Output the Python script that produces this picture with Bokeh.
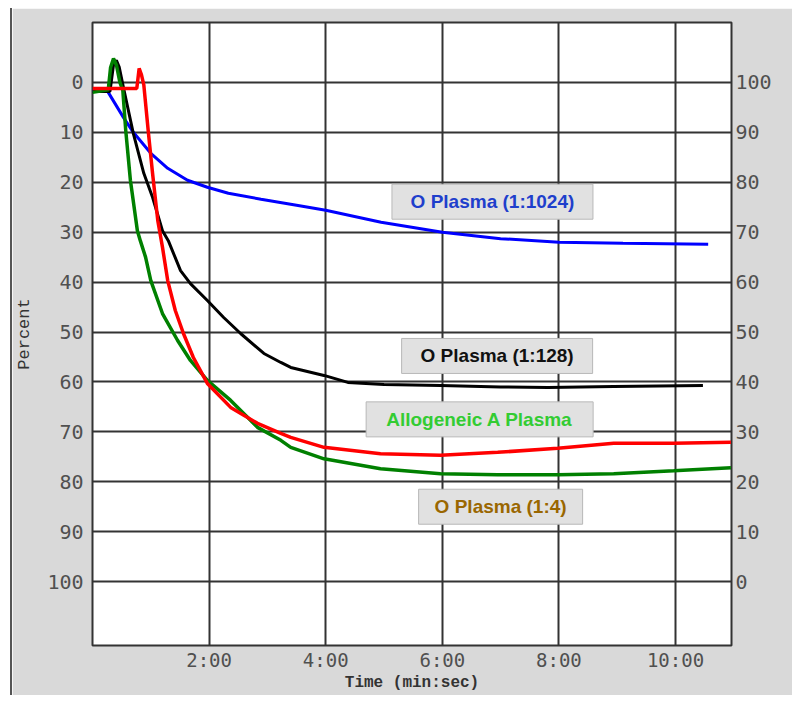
from bokeh.plotting import figure
from bokeh.models import Range1d, LinearAxis, FixedTicker, ColumnDataSource
from bokeh.core.properties import value
from bokeh.embed import file_html
from bokeh.resources import INLINE

# ---- data (time in minutes, percent on left axis, 0 at top) ----
blue_t = [0, 0.26, 0.53, 0.70, 1.00, 1.29, 1.63, 1.97, 2.33, 2.89, 3.5, 4.0, 4.95, 6.0, 7.0, 8.0, 9.1, 10.56]
blue_v = [1.6, 1.8, 7.0, 10.0, 14.2, 17.2, 19.6, 21.0, 22.2, 23.4, 24.6, 25.6, 28.0, 30.0, 31.3, 32.0, 32.2, 32.4]

black_t = [0, 0.30, 0.36, 0.41, 0.46, 0.53, 0.70, 0.88, 1.03, 1.20, 1.30, 1.51, 1.68, 1.97, 2.25, 2.54,
           2.94, 3.23, 3.40, 3.97, 4.38, 5.0, 5.97, 7.0, 7.81, 8.94, 10.47]
black_v = [1.8, 1.8, -3.5, -4.4, -3.0, 1.0, 10.2, 18.2, 23.0, 29.7, 31.7, 37.7, 40.3, 43.7, 47.1, 50.3,
           54.3, 56.1, 57.1, 58.7, 60.1, 60.5, 60.7, 61.0, 61.1, 60.9, 60.7]

green_t = [0, 0.27, 0.31, 0.36, 0.41, 0.47, 0.52, 0.57, 0.65, 0.77, 0.82, 0.91, 1.00, 1.20, 1.46, 1.68,
           1.97, 2.37, 2.83, 3.23, 3.40, 3.97, 4.94, 5.97, 6.95, 7.98, 8.94, 9.97, 10.95]
green_v = [2.0, 1.5, -3.0, -4.8, -3.5, 0.0, 1.6, 9.6, 19.6, 29.7, 31.7, 35.0, 39.7, 46.3, 51.7, 55.7,
           59.7, 63.7, 69.1, 71.7, 73.1, 75.4, 77.4, 78.4, 78.6, 78.6, 78.4, 77.8, 77.2]

red_t = [0, 0.76, 0.80, 0.84, 0.88, 0.96, 1.03, 1.12, 1.20, 1.29, 1.42, 1.56, 1.73, 1.97, 2.37, 2.83,
         3.23, 3.40, 3.97, 4.94, 5.97, 6.95, 7.98, 8.94, 9.97, 10.95]
red_v = [1.2, 1.2, -2.8, -1.5, 0.5, 10.2, 18.2, 27.7, 33.0, 39.7, 45.7, 50.3, 55.1, 60.3, 65.1, 68.3,
         70.3, 71.1, 73.1, 74.4, 74.7, 74.1, 73.3, 72.3, 72.3, 72.1]

x_ticks = [2, 4, 6, 8, 10]
x_tick_labels = ["2:00", "4:00", "6:00", "8:00", "10:00"]
left_ticks = [0, 10, 20, 30, 40, 50, 60, 70, 80, 90, 100]
right_ticks = [0, 10, 20, 30, 40, 50, 60, 70, 80, 90, 100]

label_texts = ["O Plasma (1:1024)", "O Plasma (1:128)", "Allogeneic A Plasma", "O Plasma (1:4)"]
label_t = [6.86, 6.94, 6.64, 7.00]
label_v = [23.9, 54.8, 67.5, 85.0]
label_w = [201, 191, 227, 164]
label_colors = ["#1f3fcc", "#111111", "#33cc33", "#9a6700"]

# ---- figure ----
p = figure(width=782, height=687,
           x_range=Range1d(0, 10.96), y_range=Range1d(112.8, -12),
           output_backend="svg", toolbar_location=None,
           min_border_left=76, min_border_right=63, min_border_top=14, min_border_bottom=50,
           background_fill_color="white", border_fill_color="#d9d9d9",
           outline_line_color="#333333", outline_line_width=2)
p.margin = (8, 0, 0, 10)
p.styles = {"border-left": "2px solid #555555"}

p.extra_y_ranges = {"right": Range1d(-12.8, 112)}

tick_font = "DejaVu Sans Mono"

p.xaxis.ticker = FixedTicker(ticks=x_ticks)
p.xaxis.major_label_overrides = {t: l for t, l in zip(x_ticks, x_tick_labels)}
p.yaxis.ticker = FixedTicker(ticks=left_ticks)

right_axis = LinearAxis(y_range_name="right", ticker=FixedTicker(ticks=right_ticks))
p.add_layout(right_axis, "right")

for ax in [p.xaxis[0], p.yaxis[0], right_axis]:
    ax.axis_line_color = None
    ax.major_tick_line_color = None
    ax.minor_tick_line_color = None
    ax.major_tick_out = 0
    ax.major_tick_in = 0
    ax.major_label_text_font = tick_font
    ax.major_label_text_font_size = "20px"
    ax.major_label_text_color = "#505050"
p.xaxis.major_label_text_font_size = "19px"

p.xaxis.major_label_standoff = 3
p.yaxis.major_label_standoff = 9
right_axis.major_label_standoff = 4

p.xaxis.axis_label = "Time (min:sec)"
p.xaxis.axis_label_text_font = "Liberation Mono"
p.xaxis.axis_label_text_font_style = "bold"
p.xaxis.axis_label_text_font_size = "16px"
p.xaxis.axis_label_text_color = "#333333"
p.xaxis.axis_label_standoff = 0

p.yaxis[0].axis_label = "Percent"
p.yaxis[0].axis_label_text_font = "Liberation Mono"
p.yaxis[0].axis_label_text_font_style = "normal"
p.yaxis[0].axis_label_text_font_size = "17px"
p.yaxis[0].axis_label_text_color = "#333333"
p.yaxis[0].axis_label_standoff = 10

p.xgrid.grid_line_color = "#333333"
p.xgrid.grid_line_width = 2
p.ygrid.grid_line_color = "#333333"
p.ygrid.grid_line_width = 2

# ---- curves ----
p.line(blue_t, blue_v, line_color="#0000ff", line_width=3)
p.line(black_t, black_v, line_color="#000000", line_width=3)
p.line(green_t, green_v, line_color="#008000", line_width=3.5)
p.line(red_t, red_v, line_color="#ff0000", line_width=3.5)

# ---- label boxes ----
src = ColumnDataSource(dict(x=label_t, y=label_v, w=label_w, text=label_texts, color=label_colors))
p.rect(x="x", y="y", width="w", height=35, width_units="screen", height_units="screen",
       source=src, fill_color="#e1e1e1", line_color="#b8b8b8", line_width=1)
p.text(x="x", y="y", text="text", source=src, text_color="color",
       text_align="center", text_baseline="middle",
       text_font=value("Liberation Sans"), text_font_style="bold", text_font_size="19px")

open("out.html", "w").write(file_html(p, INLINE))
